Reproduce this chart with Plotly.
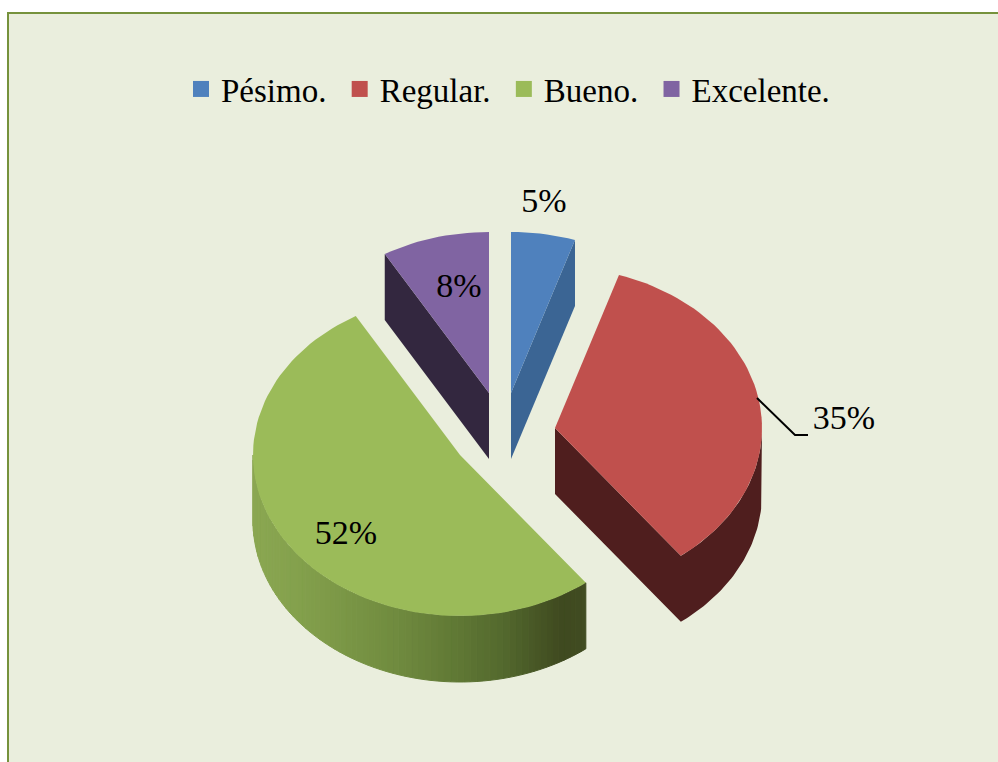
import math
import plotly.graph_objects as go

categories = ["Pésimo.", "Regular.", "Bueno.", "Excelente."]
values = [5.0, 34.6, 52.0, 8.4]
top_colors = ["#4F81BD", "#C0504D", "#9BBB59", "#8064A2"]
side_colors = ["#3B6594", "#4F1E1E", None, "#33273F"]

# Exploded slice apexes in the picture's pixel frame
APEX = [(511, 393), (555, 428), (460, 455), (489, 393)]
RX, RY, DEPTH = 207, 161, 66
BG, BORDER = "#EAEEDD", "#76923C"
FONT = "Liberation Serif"
LABEL_POS = [(544, 203), (844, 420), (346, 535), (459, 288)]
LEADER_X, LEADER_Y = [757, 795, 808], [398, 435, 435]
GRAD = [(253, (139, 167, 82)), (300, (131, 160, 76)), (400, (111, 138, 62)),
        (500, (84, 106, 46)), (560, (63, 74, 32)), (590, (65, 76, 33))]


def rim(i, a, dz=0.0):
    cx, cy = APEX[i]
    t = math.radians(a)
    return cx + RX * math.sin(t), cy - RY * math.cos(t) + dz


def grad(x):
    for (x0, c0), (x1, c1) in zip(GRAD, GRAD[1:]):
        if x <= x1:
            f = max(0, (x - x0) / (x1 - x0))
            return "rgb(%d,%d,%d)" % tuple(round(p + (q - p) * f) for p, q in zip(c0, c1))
    return "rgb(%d,%d,%d)" % GRAD[-1][1]


def poly(pts, color, line=False):
    xs, ys = zip(*pts)
    return go.Scatter(x=list(xs) + [xs[0]], y=list(ys) + [ys[0]], mode="lines",
                      fill="toself", fillcolor=color, showlegend=False, hoverinfo="skip",
                      line=dict(color=color, width=1 if line else 0))


fig = go.Figure()
bounds, acc = [], 0.0
for v in values:
    bounds.append((acc * 3.6, (acc + v) * 3.6))
    acc += v

# Depth faces
for i, (a0, a1) in enumerate(bounds):
    ax, ay = APEX[i]
    if i == 0:   # cut face towards the right
        p, q = rim(i, a1), rim(i, a1, DEPTH)
        fig.add_trace(poly([(ax, ay), p, q, (ax, ay + DEPTH)], side_colors[i]))
    elif i == 3:  # cut face towards the left
        p, q = rim(i, a0), rim(i, a0, DEPTH)
        fig.add_trace(poly([(ax, ay), p, q, (ax, ay + DEPTH)], side_colors[i]))
    elif i == 1:  # outer wall and cut face as one outline
        n = 50
        steps = [90 + (a1 - 90) * k / n for k in range(n + 1)]
        upper = [rim(i, a) for a in steps]
        lower = [rim(i, a, DEPTH) for a in steps]
        fig.add_trace(poly([(ax, ay)] + upper[::-1] + lower + [(ax, ay + DEPTH)], side_colors[i]))
    else:  # green outer wall, shaded strip by strip
        n = 70
        steps = [a0 + (270 - a0) * k / n for k in range(n + 1)]
        for s0, s1 in zip(steps, steps[1:]):
            p0, p1 = rim(i, s0), rim(i, s1)
            c = grad((p0[0] + p1[0]) / 2)
            fig.add_trace(poly([p0, p1, rim(i, s1, DEPTH), rim(i, s0, DEPTH)], c, line=True))

# Top faces
for i, (a0, a1) in enumerate(bounds):
    n = max(8, int((a1 - a0) / 2))
    arc = [rim(i, a0 + (a1 - a0) * k / n) for k in range(n + 1)]
    fig.add_trace(poly([APEX[i]] + arc, top_colors[i]))

# Legend entries
for name, color in zip(categories, top_colors):
    fig.add_trace(go.Scatter(x=[None], y=[None], mode="markers", name=name + "\u00a0",
                             marker=dict(symbol="square", size=19, color=color)))

# Leader line
fig.add_trace(go.Scatter(x=LEADER_X, y=LEADER_Y, mode="lines", showlegend=False,
                         hoverinfo="skip", line=dict(color="black", width=2)))
# Percent labels
fig.add_trace(go.Scatter(x=[p[0] for p in LABEL_POS], y=[p[1] for p in LABEL_POS],
                         mode="text", text=[f"{v:.0f}%" for v in values], showlegend=False,
                         hoverinfo="skip", textposition="middle center",
                         textfont=dict(family=FONT, size=34, color="black")))

fig.update_layout(
    width=998, height=762, margin=dict(l=0, r=0, t=0, b=0),
    paper_bgcolor="white", plot_bgcolor="rgba(0,0,0,0)",
    xaxis=dict(range=[0, 998], visible=False, fixedrange=True),
    yaxis=dict(range=[762, 0], visible=False, fixedrange=True),
    legend=dict(orientation="h", x=181 / 998, y=1 - 89 / 762, xanchor="left", yanchor="middle",
                bgcolor="rgba(0,0,0,0)", font=dict(family=FONT, size=33, color="black")),
    shapes=[dict(type="rect", xref="x", yref="y", x0=8, y0=13, x1=1020, y1=800, layer="below",
                 fillcolor=BG, line=dict(color=BORDER, width=2))],
)
fig.write_html("out.html", config={"displayModeBar": False},
               post_script="document.body.style.margin='0';document.documentElement.style.overflow='hidden';")
